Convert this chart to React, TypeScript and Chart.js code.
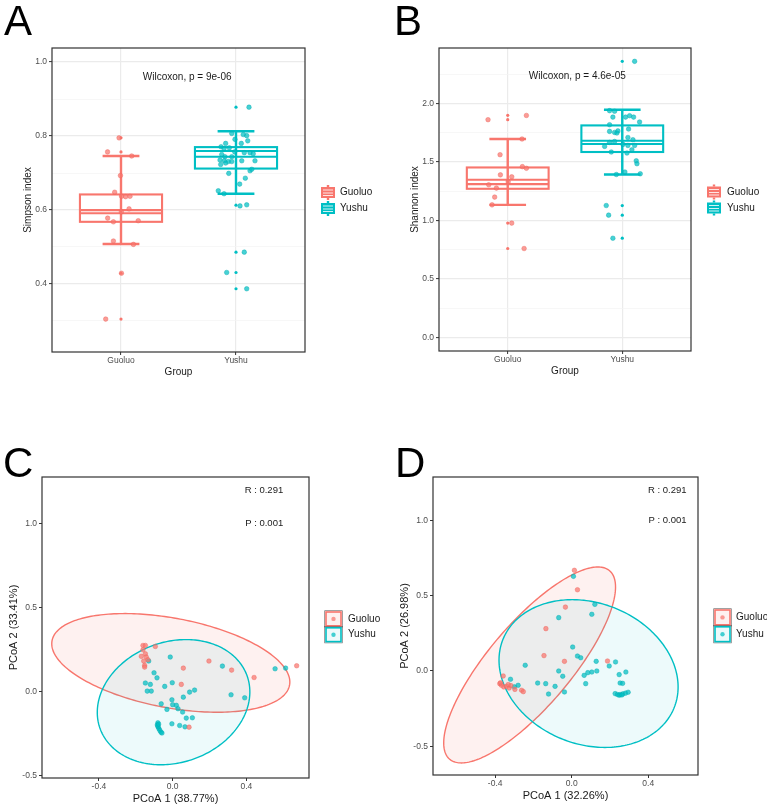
import { useEffect, useRef } from "react";
import { Chart, registerables } from "chart.js";

Chart.register(...registerables);

const FONT = "'Liberation Sans', Arial, Helvetica, sans-serif";
const GROUPS = ["Guoluo", "Yushu"];
const COLORS = ["#F8766D", "#00BFC4"];
const POINT_FILLS = ["rgba(248,118,109,0.72)", "rgba(0,191,196,0.72)"];
const POINT_EDGES = ["rgba(238,100,92,0.85)", "rgba(0,172,178,0.85)"];
const ELLIPSE_FILLS = ["rgba(248,118,109,0.10)", "rgba(0,191,196,0.07)"];
const TICK_TEXT = "#4D4D4D";
const TEXT = "#1A1A1A";

// ---------- A: Simpson index ----------
const simpsonMajor = [0.4, 0.6, 0.8, 1.0];
const simpsonMinor = [0.3, 0.5, 0.7, 0.9];
// lower whisker, Q1, inner line, median, Q3, upper whisker
const simpsonBoxGuoluo = [0.508, 0.568, 0.591, 0.5995, 0.642, 0.746];
const simpsonBoxYushu = [0.644, 0.712, 0.744, 0.7595, 0.77, 0.813];
const simpsonOutGuoluo = [0.795, 0.757, 0.429, 0.305];
const simpsonOutYushu = [0.878, 0.613, 0.486, 0.431, 0.387];
const simpsonGuoluo = [0.795, 0.757, 0.746, 0.693, 0.648, 0.637, 0.636, 0.637, 0.603, 0.595, 0.578, 0.568, 0.571, 0.516, 0.507, 0.429, 0.305];
const simpsonGuoluoJitter = [-0.017, -0.117, 0.093, -0.005, -0.055, 0.005, 0.04, 0.078, 0.07, 0.003, -0.116, -0.066, 0.15, -0.066, 0.108, 0.004, -0.133];
const simpsonYushu = [0.878, 0.807, 0.804, 0.801, 0.791, 0.78, 0.787, 0.78, 0.771, 0.768, 0.766, 0.757, 0.755, 0.755, 0.752, 0.75, 0.744, 0.744, 0.735, 0.733, 0.731, 0.731, 0.733, 0.733, 0.723, 0.727, 0.706, 0.71, 0.699, 0.686, 0.67, 0.652, 0.644, 0.611, 0.614, 0.486, 0.431, 0.387];
const simpsonYushuJitter = [0.113, -0.037, 0.063, 0.093, -0.009, -0.09, 0.102, 0.046, -0.13, -0.058, -0.104, -0.011, 0.072, 0.122, 0.15, -0.124, -0.096, -0.037, -0.139, -0.102, -0.067, -0.037, 0.05, 0.165, -0.133, -0.09, 0.122, 0.137, -0.063, 0.081, 0.032, -0.154, -0.104, 0.035, 0.093, 0.072, -0.081, 0.093];

// ---------- B: Shannon index ----------
const shannonMajor = [0, 0.5, 1.0, 1.5, 2.0];
const shannonMinor = [0.25, 0.75, 1.25, 1.75, 2.25];
const shannonBoxGuoluo = [1.134, 1.271, 1.311, 1.348, 1.453, 1.696];
const shannonBoxYushu = [1.393, 1.585, 1.653, 1.681, 1.812, 1.946];
const shannonOutGuoluo = [1.898, 1.861, 0.978, 0.761];
const shannonOutYushu = [2.359, 1.128, 1.046, 0.849];
const shannonGuoluo = [1.861, 1.897, 1.696, 1.562, 1.46, 1.446, 1.39, 1.373, 1.33, 1.305, 1.277, 1.2, 1.134, 0.978, 0.761];
const shannonGuoluoJitter = [-0.172, 0.163, 0.125, -0.067, 0.128, 0.163, -0.064, 0.035, 0.004, -0.166, -0.099, -0.114, -0.137, 0.035, 0.143];
const shannonYushu = [2.359, 1.938, 1.933, 1.883, 1.895, 1.883, 1.883, 1.841, 1.781, 1.818, 1.761, 1.752, 1.765, 1.747, 1.709, 1.675, 1.667, 1.633, 1.641, 1.641, 1.585, 1.576, 1.604, 1.51, 1.485, 1.414, 1.399, 1.393, 1.65, 1.69, 1.128, 1.046, 0.849];
const shannonYushuJitter = [0.108, -0.111, -0.067, 0.029, 0.064, 0.099, -0.082, 0.151, 0.055, -0.111, -0.111, -0.067, -0.038, -0.047, 0.049, -0.067, -0.111, -0.154, 0.049, 0.108, -0.096, 0.041, 0.084, 0.122, 0.128, 0.023, 0.157, -0.052, 0.006, 0.093, -0.14, -0.119, -0.082];

// ---------- C: PCoA ----------
const pcoaTicksX = [-0.4, 0, 0.4];
const pcoaTicksY = [-0.5, 0, 0.5, 1.0];
const pcoaCGuoluoX = [-0.161, -0.148, -0.161, -0.148, -0.17, -0.143, -0.157, -0.152, -0.152, -0.134, -0.094, 0.058, 0.197, 0.047, 0.32, 0.442, 0.673, 0.089];
const pcoaCGuoluoY = [0.274, 0.274, 0.248, 0.224, 0.209, 0.205, 0.181, 0.155, 0.145, 0.189, 0.268, 0.139, 0.181, 0.042, 0.127, 0.083, 0.153, -0.213];
const pcoaCYushuX = [-0.13, -0.013, -0.101, -0.085, -0.148, -0.121, -0.138, -0.116, -0.043, -0.002, 0.27, 0.556, 0.613, 0.119, 0.092, 0.058, 0.317, 0.391, -0.004, -0.062, 0.0, 0.02, 0.029, -0.031, 0.054, 0.074, 0.107, -0.004, 0.038, 0.067, -0.08, -0.083, -0.078, -0.074, -0.069, -0.063, -0.058, -0.081, -0.076];
const pcoaCYushuY = [0.181, 0.205, 0.111, 0.081, 0.05, 0.042, 0.002, 0.002, 0.03, 0.052, 0.151, 0.135, 0.139, 0.008, -0.004, -0.034, -0.02, -0.038, -0.05, -0.074, -0.079, -0.083, -0.103, -0.107, -0.123, -0.159, -0.157, -0.193, -0.203, -0.211, -0.187, -0.199, -0.213, -0.223, -0.233, -0.243, -0.248, -0.205, -0.195];
// ellipse: centre x, centre y, half-diameter vector (x, y), vertical half-chord
const ellipseCGuoluo = [-0.01, 0.17, 0.646, -0.114, 0.271];
const ellipseCYushu = [0.005, -0.064, 0.414, 0.061, 0.368];

// ---------- D: PCoA ----------
const pcoaDGuoluoX = [0.014, 0.03, -0.033, -0.135, -0.145, -0.038, 0.187, -0.358, -0.376, -0.367, -0.355, -0.341, -0.327, -0.318, -0.297, -0.262, -0.253, -0.372, -0.332];
const pcoaDGuoluoY = [0.668, 0.539, 0.424, 0.281, 0.102, 0.064, 0.066, -0.033, -0.084, -0.095, -0.106, -0.102, -0.113, -0.097, -0.122, -0.128, -0.137, -0.078, -0.09];
const pcoaDYushuX = [0.009, 0.121, -0.068, 0.105, 0.005, 0.03, 0.047, -0.243, -0.068, -0.047, 0.128, 0.196, 0.229, 0.131, 0.105, 0.084, 0.065, 0.073, 0.283, 0.248, 0.253, 0.266, 0.227, 0.239, 0.253, 0.267, 0.281, 0.295, 0.248, 0.262, -0.32, -0.28, -0.178, -0.136, -0.087, -0.121, -0.038, -0.3];
const pcoaDYushuY = [0.628, 0.442, 0.354, 0.376, 0.159, 0.099, 0.088, 0.038, 0.0, -0.035, 0.064, 0.033, 0.06, 0.0, -0.007, -0.011, -0.029, -0.084, -0.007, -0.024, -0.08, -0.082, -0.15, -0.156, -0.156, -0.152, -0.147, -0.141, -0.161, -0.159, -0.055, -0.095, -0.08, -0.084, -0.102, -0.153, -0.139, -0.105];
const ellipseDGuoluo = [-0.22, 0.04, 0.449, 0.517, 0.394];
const ellipseDYushu = [0.088, -0.017, 0.468, -0.089, 0.482];

const BOX_HALF = 0.357;
const CAP_HALF = 0.16;

type BoxSpec = {
  width: number; height: number;
  pad: { top: number; right: number };
  yAxisWidth: number; xAxisHeight: number;
  yTitle: string; yTitlePad: number; xTitlePad: number;
  yMin: number; yMax: number;
  major: number[]; minor: number[];
  boxes: number[][]; outliers: number[][]; values: number[][]; jitter: number[][];
  note: string; noteX: number; noteY: number;
  letter: string; letterX: number;
  legendX: number; legendTextX: number; legendY: number[];
};

type OrdSpec = {
  width: number; height: number;
  pad: { top: number; right: number };
  yAxisWidth: number; xAxisHeight: number;
  xTitle: string; yTitle: string; yTitlePad: number; xTitlePad: number;
  xMin: number; xMax: number; yMin: number; yMax: number;
  xs: number[][]; ys: number[][]; ellipses: number[][];
  letter: string; letterX: number;
  keyX: number; keyTop: number; keyH: number; legendTextX: number;
};

const near = (a: number, b: number) => Math.abs(a - b) < 1e-9;
const fmt1 = (v: number) => (Math.abs(v) < 1e-9 ? "0.0" : v.toFixed(1));

function drawFrame(chart: any) {
  const { ctx, chartArea: a } = chart;
  ctx.save();
  ctx.strokeStyle = "#333333";
  ctx.lineWidth = 1.2;
  ctx.strokeRect(a.left, a.top, a.right - a.left, a.bottom - a.top);
  ctx.restore();
}

function drawLetter(ctx: CanvasRenderingContext2D, letter: string, x: number, baseline: number) {
  ctx.save();
  ctx.fillStyle = "#000";
  ctx.font = `42px ${FONT}`;
  ctx.textAlign = "left";
  ctx.textBaseline = "alphabetic";
  ctx.fillText(letter, x, baseline);
  ctx.restore();
}

function makeBoxChart(canvas: HTMLCanvasElement, s: BoxSpec) {
  const ticks = [...s.major, ...s.minor].sort((a, b) => a - b);
  const isMajor = (v: number) => s.major.some((m) => near(m, v));
  const datasets: any[] = [];
  GROUPS.forEach((g, i) => {
    datasets.push({
      label: g,
      data: s.values[i].map((v, k) => ({ x: i + 1 + s.jitter[i][k], y: v })),
      pointRadius: 2.3,
      backgroundColor: POINT_FILLS[i],
      borderColor: POINT_EDGES[i],
      borderWidth: 0.5,
    });
    datasets.push({
      label: g + " outliers",
      data: s.outliers[i].map((v) => ({ x: i + 1, y: v })),
      pointRadius: 1.6,
      backgroundColor: COLORS[i],
      borderWidth: 0,
    });
  });

  const layer = {
    id: "boxLayer",
    beforeDatasetsDraw(chart: any) {
      const { ctx } = chart;
      const x = chart.scales.x;
      const y = chart.scales.y;
      s.boxes.forEach((stats, i) => {
        const pos = i + 1;
        const cx = x.getPixelForValue(pos);
        const bl = x.getPixelForValue(pos - BOX_HALF);
        const br = x.getPixelForValue(pos + BOX_HALF);
        const cl = x.getPixelForValue(pos - CAP_HALF);
        const cr = x.getPixelForValue(pos + CAP_HALF);
        const [lo, q1, m1, m2, q3, hi] = stats.map((v) => y.getPixelForValue(v));
        ctx.save();
        ctx.strokeStyle = COLORS[i];
        ctx.lineWidth = 2.4;
        ctx.beginPath();
        ctx.moveTo(cx, lo);
        ctx.lineTo(cx, hi);
        ctx.moveTo(cl, lo);
        ctx.lineTo(cr, lo);
        ctx.moveTo(cl, hi);
        ctx.lineTo(cr, hi);
        ctx.stroke();
        ctx.lineWidth = 2.1;
        ctx.strokeRect(bl, q3, br - bl, q1 - q3);
        ctx.beginPath();
        ctx.moveTo(bl, m1);
        ctx.lineTo(br, m1);
        ctx.moveTo(bl, m2);
        ctx.lineTo(br, m2);
        ctx.stroke();
        ctx.restore();
      });
    },
    afterDraw(chart: any) {
      const { ctx } = chart;
      const x = chart.scales.x;
      const y = chart.scales.y;
      drawFrame(chart);
      ctx.save();
      ctx.fillStyle = TEXT;
      ctx.font = `10px ${FONT}`;
      ctx.textAlign = "left";
      ctx.textBaseline = "middle";
      ctx.fillText(s.note, x.getPixelForValue(s.noteX), y.getPixelForValue(s.noteY));
      // legend
      GROUPS.forEach((g, i) => {
        const kx = s.legendX;
        const ky = s.legendY[i];
        ctx.fillStyle = COLORS[i];
        ctx.fillRect(kx - 7, ky - 5.5, 14, 11);
        ctx.fillRect(kx - 1.2, ky - 7.5, 2.4, 2);
        ctx.fillRect(kx - 1.2, ky + 5.5, 2.4, 2);
        ctx.strokeStyle = "rgba(255,255,255,0.9)";
        ctx.lineWidth = 0.9;
        ctx.beginPath();
        ctx.moveTo(kx - 5, ky - 2.5);
        ctx.lineTo(kx + 5, ky - 2.5);
        ctx.moveTo(kx - 5, ky + 0.5);
        ctx.lineTo(kx + 5, ky + 0.5);
        ctx.moveTo(kx - 5, ky + 3);
        ctx.lineTo(kx + 5, ky + 3);
        ctx.stroke();
        ctx.fillStyle = TEXT;
        ctx.fillText(g, s.legendTextX, ky);
      });
      ctx.restore();
      drawLetter(ctx, s.letter, s.letterX, 35);
    },
  };

  return new Chart(canvas, {
    type: "scatter",
    data: { datasets },
    options: {
      animation: false,
      responsive: false,
      events: [],
      layout: { padding: { top: s.pad.top, right: s.pad.right, left: 0, bottom: 0 } },
      plugins: { legend: { display: false }, tooltip: { enabled: false }, title: { display: false } },
      scales: {
        x: {
          type: "linear",
          min: 0.4,
          max: 2.6,
          afterBuildTicks: (ax: any) => {
            ax.ticks = [{ value: 1 }, { value: 2 }];
          },
          afterFit: (ax: any) => {
            ax.height = s.xAxisHeight;
          },
          ticks: {
            autoSkip: false,
            maxRotation: 0,
            padding: 1,
            color: TICK_TEXT,
            font: { family: FONT, size: 8.5 },
            callback: (v: any) => GROUPS[Math.round(Number(v)) - 1],
          },
          grid: { color: "#EBEBEB", lineWidth: 1.2, tickLength: 3, tickColor: "#333333", tickWidth: 1 },
          border: { display: false },
          title: { display: true, text: "Group", color: TEXT, font: { family: FONT, size: 10 }, padding: { top: 0, bottom: s.xTitlePad } },
        },
        y: {
          type: "linear",
          min: s.yMin,
          max: s.yMax,
          afterBuildTicks: (ax: any) => {
            ax.ticks = ticks.map((v) => ({ value: v }));
          },
          afterFit: (ax: any) => {
            ax.width = s.yAxisWidth;
          },
          ticks: {
            autoSkip: false,
            padding: 2,
            color: TICK_TEXT,
            font: { family: FONT, size: 8.5 },
            callback: (v: any) => (isMajor(Number(v)) ? fmt1(Number(v)) : ""),
          },
          grid: {
            color: (c: any) => (c.tick && isMajor(c.tick.value) ? "#EBEBEB" : "#F4F4F4"),
            lineWidth: (c: any) => (c.tick && isMajor(c.tick.value) ? 1.2 : 0.7),
            tickLength: 3,
            tickColor: (c: any) => (c.tick && isMajor(c.tick.value) ? "#333333" : "rgba(0,0,0,0)"),
            tickWidth: 1,
          },
          border: { display: false },
          title: { display: true, text: s.yTitle, color: TEXT, font: { family: FONT, size: 10 }, padding: { top: s.yTitlePad, bottom: 0 } },
        },
      },
    },
    plugins: [layer],
  } as any);
}

function makeOrdChart(canvas: HTMLCanvasElement, s: OrdSpec) {
  const datasets = GROUPS.map((g, i) => ({
    label: g,
    data: s.xs[i].map((v, k) => ({ x: v, y: s.ys[i][k] })),
    pointRadius: 2.3,
    backgroundColor: POINT_FILLS[i],
    borderColor: POINT_EDGES[i],
    borderWidth: 0.5,
  }));

  const layer = {
    id: "ellipseLayer",
    beforeDatasetsDraw(chart: any) {
      const { ctx } = chart;
      const x = chart.scales.x;
      const y = chart.scales.y;
      s.ellipses.forEach((p, i) => {
        const [cx, cy, ux, uy, h] = p;
        ctx.save();
        ctx.beginPath();
        for (let k = 0; k <= 240; k++) {
          const t = (k / 240) * Math.PI * 2;
          const px = x.getPixelForValue(cx + ux * Math.cos(t));
          const py = y.getPixelForValue(cy + uy * Math.cos(t) + h * Math.sin(t));
          if (k === 0) ctx.moveTo(px, py);
          else ctx.lineTo(px, py);
        }
        ctx.closePath();
        ctx.fillStyle = ELLIPSE_FILLS[i];
        ctx.fill();
        ctx.strokeStyle = COLORS[i];
        ctx.lineWidth = 1.4;
        ctx.stroke();
        ctx.restore();
      });
    },
    afterDraw(chart: any) {
      const { ctx } = chart;
      const x = chart.scales.x;
      const y = chart.scales.y;
      drawFrame(chart);
      ctx.save();
      ctx.fillStyle = TEXT;
      ctx.font = `9.5px ${FONT}`;
      ctx.textAlign = "right";
      ctx.textBaseline = "middle";
      ctx.fillText("R : 0.291", x.getPixelForValue(0.6), y.getPixelForValue(1.2));
      ctx.fillText("P : 0.001", x.getPixelForValue(0.6), y.getPixelForValue(1.0));
      // legend
      ctx.textAlign = "left";
      ctx.font = `10px ${FONT}`;
      GROUPS.forEach((g, i) => {
        const top = s.keyTop + i * s.keyH;
        const w = 17;
        ctx.fillStyle = ELLIPSE_FILLS[i];
        ctx.fillRect(s.keyX, top, w, s.keyH);
        ctx.strokeStyle = "rgba(60,60,60,0.8)";
        ctx.lineWidth = 0.6;
        ctx.strokeRect(s.keyX - 0.3, top - 0.3, w + 0.6, s.keyH + 0.6);
        ctx.strokeStyle = COLORS[i];
        ctx.lineWidth = 1.6;
        ctx.strokeRect(s.keyX + 1, top + 1, w - 2, s.keyH - 2);
        ctx.fillStyle = POINT_FILLS[i];
        ctx.beginPath();
        ctx.arc(s.keyX + w / 2, top + s.keyH / 2, 2.2, 0, Math.PI * 2);
        ctx.fill();
        ctx.fillStyle = TEXT;
        ctx.fillText(g, s.legendTextX, top + s.keyH / 2);
      });
      ctx.restore();
      drawLetter(ctx, s.letter, s.letterX, 87);
    },
  };

  return new Chart(canvas, {
    type: "scatter",
    data: { datasets },
    options: {
      animation: false,
      responsive: false,
      events: [],
      layout: { padding: { top: s.pad.top, right: s.pad.right, left: 0, bottom: 0 } },
      plugins: { legend: { display: false }, tooltip: { enabled: false }, title: { display: false } },
      scales: {
        x: {
          type: "linear",
          min: s.xMin,
          max: s.xMax,
          afterBuildTicks: (ax: any) => {
            ax.ticks = pcoaTicksX.map((v) => ({ value: v }));
          },
          afterFit: (ax: any) => {
            ax.height = s.xAxisHeight;
          },
          ticks: {
            autoSkip: false,
            maxRotation: 0,
            padding: 1,
            color: TICK_TEXT,
            font: { family: FONT, size: 8.5 },
            callback: (v: any) => fmt1(Number(v)),
          },
          grid: { drawOnChartArea: false, tickLength: 3, tickColor: "#333333", tickWidth: 1 },
          border: { display: false },
          title: { display: true, text: s.xTitle, color: TEXT, font: { family: FONT, size: 11 }, padding: { top: 0, bottom: s.xTitlePad } },
        },
        y: {
          type: "linear",
          min: s.yMin,
          max: s.yMax,
          afterBuildTicks: (ax: any) => {
            ax.ticks = pcoaTicksY.map((v) => ({ value: v }));
          },
          afterFit: (ax: any) => {
            ax.width = s.yAxisWidth;
          },
          ticks: {
            autoSkip: false,
            padding: 2,
            color: TICK_TEXT,
            font: { family: FONT, size: 8.5 },
            callback: (v: any) => fmt1(Number(v)),
          },
          grid: { drawOnChartArea: false, tickLength: 3, tickColor: "#333333", tickWidth: 1 },
          border: { display: false },
          title: { display: true, text: s.yTitle, color: TEXT, font: { family: FONT, size: 11 }, padding: { top: s.yTitlePad, bottom: 0 } },
        },
      },
    },
    plugins: [layer],
  } as any);
}

const specA: BoxSpec = {
  width: 380, height: 390,
  pad: { top: 48, right: 75 },
  yAxisWidth: 52, xAxisHeight: 38,
  yTitle: "Simpson index", yTitlePad: 22, xTitlePad: 12,
  yMin: 0.216, yMax: 1.038,
  major: simpsonMajor, minor: simpsonMinor,
  boxes: [simpsonBoxGuoluo, simpsonBoxYushu],
  outliers: [simpsonOutGuoluo, simpsonOutYushu],
  values: [simpsonGuoluo, simpsonYushu],
  jitter: [simpsonGuoluoJitter, simpsonYushuJitter],
  note: "Wilcoxon, p = 9e-06", noteX: 1.19, noteY: 0.96,
  letter: "A", letterX: 4,
  legendX: 328, legendTextX: 340, legendY: [192.5, 208.5],
};

const specB: BoxSpec = {
  width: 387, height: 390,
  pad: { top: 48, right: 76 },
  yAxisWidth: 59, xAxisHeight: 39,
  yTitle: "Shannon index", yTitlePad: 29, xTitlePad: 13,
  yMin: -0.114, yMax: 2.473,
  major: shannonMajor, minor: shannonMinor,
  boxes: [shannonBoxGuoluo, shannonBoxYushu],
  outliers: [shannonOutGuoluo, shannonOutYushu],
  values: [shannonGuoluo, shannonYushu],
  jitter: [shannonGuoluoJitter, shannonYushuJitter],
  note: "Wilcoxon, p = 4.6e-05", noteX: 1.184, noteY: 2.23,
  letter: "B", letterX: 14,
  legendX: 334, legendTextX: 347, legendY: [192, 208],
};

const specC: OrdSpec = {
  width: 380, height: 419,
  pad: { top: 87, right: 71 },
  yAxisWidth: 42, xAxisHeight: 31,
  xTitle: "PCoA 1 (38.77%)", yTitle: "PCoA 2 (33.41%)", yTitlePad: 7, xTitlePad: 3,
  xMin: -0.709, xMax: 0.74, yMin: -0.516, yMax: 1.278,
  xs: [pcoaCGuoluoX, pcoaCYushuX], ys: [pcoaCGuoluoY, pcoaCYushuY],
  ellipses: [ellipseCGuoluo, ellipseCYushu],
  letter: "C", letterX: 3,
  keyX: 325, keyTop: 221, keyH: 15.8, legendTextX: 348,
};

const specD: OrdSpec = {
  width: 387, height: 419,
  pad: { top: 87, right: 69 },
  yAxisWidth: 53, xAxisHeight: 34,
  xTitle: "PCoA 1 (32.26%)", yTitle: "PCoA 2 (26.98%)", yTitlePad: 18, xTitlePad: 6,
  xMin: -0.725, xMax: 0.66, yMin: -0.69, yMax: 1.287,
  xs: [pcoaDGuoluoX, pcoaDYushuX], ys: [pcoaDGuoluoY, pcoaDYushuY],
  ellipses: [ellipseDGuoluo, ellipseDYushu],
  letter: "D", letterX: 15,
  keyX: 334, keyTop: 219, keyH: 16.8, legendTextX: 356,
};

export default function App() {
  const refA = useRef<HTMLCanvasElement>(null);
  const refB = useRef<HTMLCanvasElement>(null);
  const refC = useRef<HTMLCanvasElement>(null);
  const refD = useRef<HTMLCanvasElement>(null);

  useEffect(() => {
    const charts = [
      makeBoxChart(refA.current!, specA),
      makeBoxChart(refB.current!, specB),
      makeOrdChart(refC.current!, specC),
      makeOrdChart(refD.current!, specD),
    ];
    return () => charts.forEach((c) => c.destroy());
  }, []);

  const pos = (left: number, top: number, w: number, h: number): any => ({
    position: "absolute",
    left,
    top,
    width: w,
    height: h,
  });

  return (
    <div style={{ position: "absolute", left: 0, top: 0, width: 767, height: 809, background: "#fff", overflow: "hidden" }}>
      <canvas ref={refA} width={380} height={390} style={pos(0, 0, 380, 390)} />
      <canvas ref={refB} width={387} height={390} style={pos(380, 0, 387, 390)} />
      <canvas ref={refC} width={380} height={419} style={pos(0, 390, 380, 419)} />
      <canvas ref={refD} width={387} height={419} style={pos(380, 390, 387, 419)} />
    </div>
  );
}
